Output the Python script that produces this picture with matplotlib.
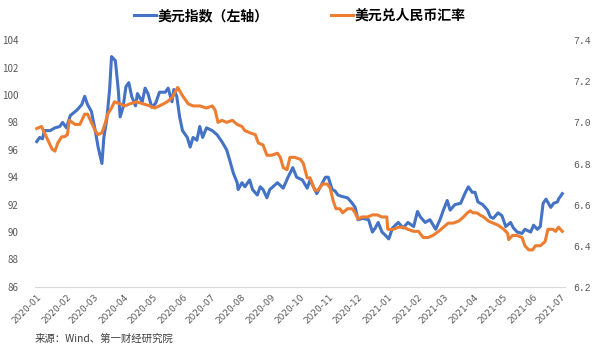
import pandas as pd
import matplotlib.pyplot as plt
import matplotlib.dates as mdates

plt.rcParams['font.family'] = ['Noto Sans CJK SC', 'DejaVu Sans']

# 美元指数 (left axis)
dxy_dates = [
    "2020-01-01", "2020-01-04", "2020-01-07", "2020-01-09", "2020-01-15", "2020-01-20",
    "2020-01-25", "2020-01-28", "2020-02-01", "2020-02-05", "2020-02-12", "2020-02-17",
    "2020-02-20", "2020-02-23", "2020-02-27", "2020-03-02", "2020-03-05", "2020-03-09",
    "2020-03-11", "2020-03-14", "2020-03-17", "2020-03-19", "2020-03-23", "2020-03-26",
    "2020-03-28", "2020-03-31", "2020-04-03", "2020-04-06", "2020-04-09", "2020-04-13",
    "2020-04-15", "2020-04-20", "2020-04-23", "2020-04-26", "2020-04-30", "2020-05-04",
    "2020-05-08", "2020-05-14", "2020-05-17", "2020-05-21", "2020-05-23", "2020-05-26",
    "2020-05-29", "2020-06-01", "2020-06-06", "2020-06-09", "2020-06-12", "2020-06-16",
    "2020-06-19", "2020-06-22", "2020-06-26", "2020-07-02", "2020-07-07", "2020-07-12",
    "2020-07-17", "2020-07-20", "2020-07-24", "2020-07-28", "2020-07-29", "2020-08-02",
    "2020-08-05", "2020-08-10", "2020-08-13", "2020-08-18", "2020-08-21", "2020-08-24",
    "2020-08-28", "2020-08-31", "2020-09-08", "2020-09-14", "2020-09-19", "2020-09-24",
    "2020-09-28", "2020-10-04", "2020-10-09", "2020-10-12", "2020-10-19", "2020-10-25",
    "2020-10-28", "2020-10-31", "2020-11-04", "2020-11-07", "2020-11-10", "2020-11-14",
    "2020-11-20", "2020-11-25", "2020-11-28", "2020-12-01", "2020-12-06", "2020-12-12",
    "2020-12-16", "2020-12-19", "2020-12-22", "2020-12-26", "2020-12-29", "2021-01-02",
    "2021-01-06", "2021-01-09", "2021-01-12", "2021-01-17", "2021-01-22", "2021-01-28",
    "2021-02-01", "2021-02-04", "2021-02-09", "2021-02-14", "2021-02-20", "2021-02-25",
    "2021-02-28", "2021-03-04", "2021-03-07", "2021-03-12", "2021-03-18", "2021-03-23",
    "2021-03-26", "2021-03-30", "2021-04-02", "2021-04-05", "2021-04-10", "2021-04-15",
    "2021-04-18", "2021-04-21", "2021-04-26", "2021-04-30", "2021-05-04", "2021-05-09",
    "2021-05-12", "2021-05-16", "2021-05-21", "2021-05-24", "2021-05-30", "2021-06-02",
    "2021-06-06", "2021-06-09", "2021-06-12", "2021-06-15", "2021-06-20", "2021-06-23",
    "2021-06-27", "2021-06-28", "2021-07-02",
]
dxy = [
    96.6, 96.9, 96.8, 97.4, 97.4, 97.6,
    97.7, 98.0, 97.6, 98.5, 98.9, 99.3,
    99.9, 99.3, 98.8, 97.4, 96.2, 95.0,
    96.9, 98.2, 100.4, 102.8, 102.5, 100.4,
    98.4, 99.1, 100.6, 100.9, 99.9, 99.2,
    100.1, 99.5, 100.5, 100.1, 99.1, 99.4,
    100.2, 100.2, 100.5, 99.5, 100.4, 99.9,
    98.4, 97.4, 96.9, 96.2, 96.9, 96.7,
    97.7, 96.9, 97.6, 97.4, 97.1, 96.6,
    96.0, 95.3, 94.3, 93.6, 93.1, 93.6,
    93.3, 93.8, 93.1, 92.7, 93.3, 93.1,
    92.5, 93.1, 93.6, 93.2, 94.0, 94.7,
    94.0, 93.8, 93.2, 93.8, 92.8, 93.6,
    94.0, 94.0, 93.1, 93.0, 92.7, 92.6,
    92.5, 92.1, 91.8, 90.9, 91.0, 90.9,
    90.0, 90.3, 90.7, 90.0, 89.8, 89.5,
    90.3, 90.5, 90.7, 90.3, 90.7, 90.4,
    91.5, 91.1, 90.7, 90.9, 90.2, 91.0,
    91.6, 92.3, 91.6, 92.0, 92.1, 92.9,
    93.3, 92.9, 92.9, 92.2, 92.0, 91.6,
    91.1, 91.0, 91.4, 91.2, 90.4, 90.7,
    90.3, 90.0, 89.9, 90.2, 90.0, 90.5,
    90.2, 90.4, 92.1, 92.4, 91.8, 92.1,
    92.2, 92.4, 92.8,
]

# 美元兑人民币汇率 (right axis)
cny_dates = [
    "2020-01-01", "2020-01-06", "2020-01-09", "2020-01-12", "2020-01-17", "2020-01-20",
    "2020-01-23", "2020-01-27", "2020-01-30", "2020-02-02", "2020-02-04", "2020-02-10",
    "2020-02-15", "2020-02-20", "2020-02-23", "2020-02-27", "2020-03-02", "2020-03-05",
    "2020-03-09", "2020-03-12", "2020-03-15", "2020-03-19", "2020-03-22", "2020-03-28",
    "2020-04-02", "2020-04-07", "2020-04-14", "2020-04-21", "2020-04-28", "2020-05-03",
    "2020-05-08", "2020-05-16", "2020-05-21", "2020-05-27", "2020-06-01", "2020-06-07",
    "2020-06-12", "2020-06-19", "2020-06-26", "2020-07-02", "2020-07-05", "2020-07-08",
    "2020-07-12", "2020-07-17", "2020-07-23", "2020-07-28", "2020-08-02", "2020-08-05",
    "2020-08-10", "2020-08-16", "2020-08-19", "2020-08-24", "2020-08-28", "2020-09-02",
    "2020-09-08", "2020-09-11", "2020-09-14", "2020-09-18", "2020-09-21", "2020-09-26",
    "2020-10-02", "2020-10-05", "2020-10-09", "2020-10-12", "2020-10-17", "2020-10-20",
    "2020-10-25", "2020-10-30", "2020-11-02", "2020-11-05", "2020-11-08", "2020-11-12",
    "2020-11-15", "2020-11-20", "2020-11-25", "2020-11-28", "2020-12-01", "2020-12-05",
    "2020-12-11", "2020-12-16", "2020-12-21", "2020-12-26", "2020-12-31", "2021-01-01",
    "2021-01-07", "2021-01-12", "2021-01-17", "2021-01-22", "2021-01-28", "2021-02-02",
    "2021-02-07", "2021-02-12", "2021-02-17", "2021-02-23", "2021-02-28", "2021-03-05",
    "2021-03-10", "2021-03-16", "2021-03-21", "2021-03-25", "2021-03-28", "2021-03-31",
    "2021-04-04", "2021-04-07", "2021-04-11", "2021-04-16", "2021-04-21", "2021-04-26",
    "2021-05-02", "2021-05-06", "2021-05-07", "2021-05-11", "2021-05-16", "2021-05-21",
    "2021-05-24", "2021-05-28", "2021-06-01", "2021-06-04", "2021-06-09", "2021-06-14",
    "2021-06-17", "2021-06-22", "2021-06-25", "2021-06-28", "2021-07-02",
]
cny = [
    6.97, 6.98, 6.95, 6.92, 6.87, 6.86,
    6.90, 6.93, 6.93, 6.94, 7.01, 6.99,
    6.99, 7.04, 7.04, 7.00, 6.96, 6.94,
    6.95, 6.99, 7.04, 7.07, 7.10, 7.09,
    7.08, 7.09, 7.10, 7.09, 7.08, 7.07,
    7.08, 7.10, 7.12, 7.17, 7.13, 7.09,
    7.08, 7.08, 7.07, 7.08, 7.06, 7.00,
    7.01, 7.00, 7.01, 6.99, 6.98, 6.96,
    6.95, 6.94, 6.90, 6.89, 6.84, 6.84,
    6.85, 6.83, 6.78, 6.77, 6.83, 6.83,
    6.82, 6.80, 6.73, 6.73, 6.67, 6.67,
    6.70, 6.70, 6.68, 6.62, 6.58, 6.58,
    6.56, 6.58, 6.58, 6.56, 6.53, 6.54,
    6.54, 6.55, 6.55, 6.54, 6.54, 6.48,
    6.48, 6.49, 6.49, 6.48, 6.47, 6.47,
    6.44, 6.44, 6.45, 6.47, 6.49, 6.51,
    6.51, 6.52, 6.54, 6.56, 6.57, 6.56,
    6.56, 6.55, 6.54, 6.52, 6.51, 6.50,
    6.48, 6.46, 6.43, 6.45, 6.45, 6.44,
    6.40, 6.38, 6.38, 6.40, 6.40, 6.42,
    6.48, 6.48, 6.47, 6.49, 6.47,
]

left_ticks = [86, 88, 90, 92, 94, 96, 98, 100, 102, 104]
right_ticks = [6.2, 6.4, 6.6, 6.8, 7.0, 7.2, 7.4]

fig = plt.figure(figsize=(6, 3.52), dpi=100)
ax = fig.add_axes([0.058, 0.185, 0.884, 0.701])
ax2 = ax.twinx()

l1, = ax.plot(pd.to_datetime(dxy_dates), dxy, color="#4472C4", lw=2.2)
l2, = ax2.plot(pd.to_datetime(cny_dates), cny, color="#ED7D31", lw=2.2)

ax.set_ylim(86, 104)
ax.set_yticks(left_ticks)
ax2.set_ylim(6.2, 7.4)
ax2.set_yticks(right_ticks)
ax2.set_yticklabels(["%.1f" % v for v in right_ticks], family="Liberation Mono")

ax.set_xlim(pd.Timestamp("2019-12-30"), pd.Timestamp("2021-07-05"))
ax.xaxis.set_major_locator(mdates.MonthLocator())
ax.xaxis.set_major_formatter(mdates.DateFormatter("%Y-%m"))
for lab in ax.get_xticklabels():
    lab.set_rotation(45)
    lab.set_ha("right")
    lab.set_rotation_mode("anchor")
    lab.set_family("DejaVu Sans")

for a in (ax, ax2):
    for s in a.spines.values():
        s.set_visible(False)
    a.tick_params(length=0, labelsize=7, colors="#595959")
ax.spines["bottom"].set_visible(True)
ax.spines["bottom"].set_color("#D9D9D9")
ax.tick_params(axis="y", pad=12)
ax.tick_params(axis="x", pad=4, labelsize=6.5)
ax2.tick_params(axis="y", pad=6)

fig.legend([l1, l2], ["美元指数（左轴）", "美元兑人民币汇率"], loc="upper center",
           bbox_to_anchor=(0.5, 1.01), ncol=2, frameon=False, fontsize=10,
           handlelength=1.6, handletextpad=0.1, columnspacing=4.5,
           prop={"weight": "bold", "size": 10})

fig.text(0.058, 0.03, "来源：Wind、第一财经研究院", fontsize=7.5, color="#404040")

fig.savefig("out.png", dpi=100)
